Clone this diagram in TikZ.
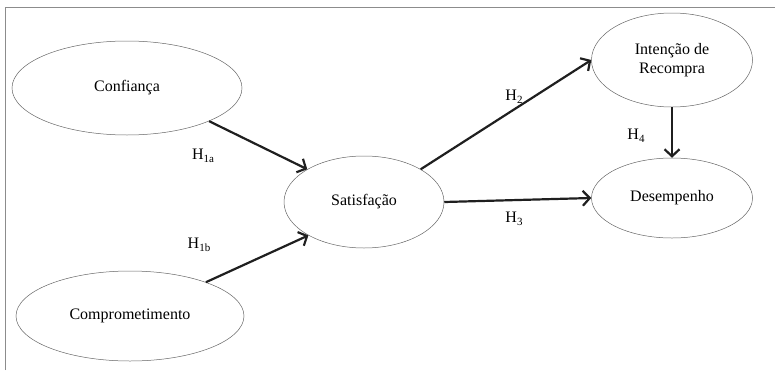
\documentclass[tikz,border=0pt]{standalone}
\usepackage{fontspec}
\setmainfont{Liberation Serif}
\usetikzlibrary{arrows.meta,shapes.geometric}
\begin{document}
\begin{tikzpicture}[x=1pt,y=-1pt,
  construct/.style={draw=black!60,line width=0.5pt,ellipse,inner sep=0pt,font=\fontsize{16}{19}\selectfont,align=center},
  path/.style={draw=black!88,line width=2.2pt,-{Straight Barb[length=7pt,width=15pt,line width=2.2pt]}},
  hyp/.style={font=\fontsize{16}{18}\selectfont,inner sep=0pt}]
\useasboundingbox (0,0) rectangle (775,370);
\draw[black!45,line width=0.8pt] (5,370) -- (5,7) -- (775,7);
\node[construct,minimum width=230pt,minimum height=94pt] (conf) at (127,88) {Confiança};
\node[construct,minimum width=228pt,minimum height=90pt] (comp) at (130,316) {Comprometimento};
\node[construct,minimum width=160pt,minimum height=92pt] (sat) at (364,202) {Satisfação};
\node[construct,minimum width=161pt,minimum height=94pt] (int) at (672,60) {Intenção de\\Recompra};
\node[construct,minimum width=161pt,minimum height=80pt] (des) at (672,198) {Desempenho};
\draw[path] (conf.-22) -- (sat.150);
\draw[path] (comp.24) -- (sat.-149);
\draw[path] (sat.30) -- (int.west);
\draw[path] (sat.east) -- (des.west);
\draw[path] (int.south) -- (des.north);
\node[hyp] (h1a) at (203,156) {H\raisebox{-3.5pt}{\fontsize{11}{11}\selectfont 1a}};
\node[hyp] (h1b) at (199,245) {H\raisebox{-3.5pt}{\fontsize{11}{11}\selectfont 1b}};
\node[hyp] (h2) at (514,97) {H\raisebox{-3.5pt}{\fontsize{11}{11}\selectfont 2}};
\node[hyp] (h3) at (514,219) {H\raisebox{-3.5pt}{\fontsize{11}{11}\selectfont 3}};
\node[hyp] (h4) at (636,136) {H\raisebox{-3.5pt}{\fontsize{11}{11}\selectfont 4}};
\end{tikzpicture}
\end{document}
